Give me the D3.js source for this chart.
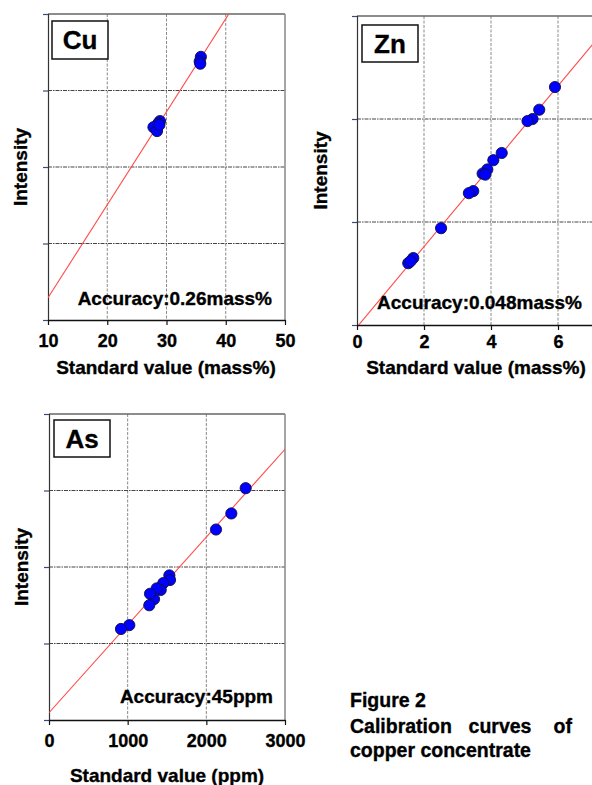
<!DOCTYPE html>
<html>
<head>
<meta charset="utf-8">
<script src="https://cdn.jsdelivr.net/npm/d3@7"></script>
<style>
  html, body { margin: 0; padding: 0; background: #fff; }
  svg { display: block; font-family: "Liberation Sans", Arial, Helvetica, sans-serif; }
  svg text { stroke: #000; stroke-width: 0.35px; }
</style>
</head>
<body>
<svg id="chart" width="592" height="785"></svg>
<script>
// Cu: standard value (mass%) vs. intensity
const cuX = [35.8, 35.6, 35.7, 28.9, 28.6, 27.8, 28.4, 28.8];
const cuY = [3.44, 3.38, 3.35, 2.60, 2.57, 2.52, 2.47, 2.55];
const cuFit = [0.1216, -0.926];          // slope, intercept
const cuTicks = [10, 20, 30, 40, 50];

// Zn: standard value (mass%) vs. intensity
const znX = [5.91, 5.44, 5.24, 5.09, 4.32, 4.07, 3.89, 3.75, 3.83, 3.47, 3.34, 2.51, 1.68, 1.53, 1.60];
const znY = [2.31, 2.09, 2.00, 1.98, 1.67, 1.60, 1.51, 1.47, 1.46, 1.30, 1.28, 0.94, 0.65, 0.60, 0.62];
const znFit = [0.39, -0.0195];
const znTicks = [0, 2, 4, 6, 8];

// As: standard value (ppm) vs. intensity
const asX = [2500, 2318, 2123, 1530, 1538, 1453, 1420, 1369, 1335, 1284, 1275, 1021, 915];
const asY = [3.03, 2.70, 2.49, 1.89, 1.83, 1.79, 1.70, 1.72, 1.58, 1.65, 1.50, 1.24, 1.19];
const asFit = [0.001148, 0.095];
const asTicks = [0, 1000, 2000, 3000];

const panels = [
  { id: "cu", name: "Cu", xs: cuX, ys: cuY, fit: cuFit, ticks: cuTicks, yMax: 4,
    left: 48, right: 285, top: 14, bottom: 320,
    box: [52, 21, 56, 38], acc: "Accuracy:0.26mass%", accX: 272, accY: 305,
    title: "Standard value (mass%)", titleX: 166, titleY: 374, tickY: 347, yTitleX: 27 },
  { id: "zn", name: "Zn", xs: znX, ys: znY, fit: znFit, ticks: znTicks, yMax: 3,
    left: 357, right: 625, top: 16, bottom: 325,
    box: [362, 25, 56, 37], acc: "Accuracy:0.048mass%", accX: 582, accY: 309,
    title: "Standard value (mass%)", titleX: 476, titleY: 374, tickY: 348, yTitleX: 327 },
  { id: "as", name: "As", xs: asX, ys: asY, fit: asFit, ticks: asTicks, yMax: 4,
    left: 49, right: 285, top: 414, bottom: 720,
    box: [54, 420, 56, 37], acc: "Accuracy:45ppm", accX: 273, accY: 703,
    title: "Standard value (ppm)", titleX: 167, titleY: 782, tickY: 747, yTitleX: 28 }
];

const svg = d3.select("#chart");
const W = +svg.attr("width");

panels.forEach(p => {
  const x = d3.scaleLinear()
    .domain([p.ticks[0], p.ticks[p.ticks.length - 1]])
    .range([p.left, p.right]);
  const y = d3.scaleLinear().domain([0, p.yMax]).range([p.bottom, p.top]);
  const g = svg.append("g");

  g.append("clipPath").attr("id", "clip-" + p.id)
    .append("rect")
    .attr("x", p.left).attr("y", p.top)
    .attr("width", p.right - p.left).attr("height", p.bottom - p.top);

  // vertical grid lines
  g.selectAll(".vgrid").data(p.ticks.slice(1, -1)).enter().append("line")
    .attr("x1", d => x(d)).attr("x2", d => x(d))
    .attr("y1", p.top).attr("y2", p.bottom)
    .attr("stroke", "#8a8a8a").attr("stroke-width", 1)
    .attr("stroke-dasharray", "3,1.5");

  // horizontal grid lines
  const yGrid = d3.range(1, p.yMax);
  g.selectAll(".hgrid").data(yGrid).enter().append("line")
    .attr("x1", p.left).attr("x2", p.right)
    .attr("y1", d => y(d)).attr("y2", d => y(d))
    .attr("stroke", "#444").attr("stroke-width", 1)
    .attr("stroke-dasharray", "4,1,1.5,1");

  // frame: top and right in grey
  g.append("line").attr("x1", p.left).attr("x2", p.right)
    .attr("y1", p.top).attr("y2", p.top)
    .attr("stroke", "#666").attr("stroke-width", 1.5);
  g.append("line").attr("x1", p.right).attr("x2", p.right)
    .attr("y1", p.top).attr("y2", p.bottom)
    .attr("stroke", "#888").attr("stroke-width", 1.5);

  // left axis with small outside ticks
  const yAxis = d3.axisLeft(y).tickValues(d3.range(0, p.yMax + 1))
    .tickSize(5).tickFormat("");
  const ya = g.append("g").attr("transform", `translate(${p.left},0)`).call(yAxis);
  ya.select(".domain").attr("stroke", "#333").attr("stroke-width", 1.2);
  ya.selectAll(".tick line").attr("stroke", "#3a4a7a").attr("stroke-width", 1.2);

  // bottom axis; labels only where they fall on the page
  const xAxis = d3.axisBottom(x).tickValues(p.ticks).tickSize(5).tickSizeOuter(0)
    .tickFormat(d => x(d) < W ? d3.format("d")(d) : "");
  const xa = g.append("g").attr("transform", `translate(0,${p.bottom})`).call(xAxis);
  xa.select(".domain").attr("stroke", "#111").attr("stroke-width", 1.5);
  xa.selectAll(".tick line").attr("stroke", "#111").attr("stroke-width", 1.2);
  xa.selectAll(".tick text")
    .attr("y", null).attr("dy", null)
    .attr("transform", `translate(0,${p.tickY - p.bottom})`)
    .attr("font-size", 18).attr("font-weight", "bold").attr("fill", "#000")
    .attr("font-family", "Liberation Sans, Arial, sans-serif");

  // calibration line
  const xd = x.domain();
  g.append("line")
    .attr("clip-path", `url(#clip-${p.id})`)
    .attr("x1", x(xd[0])).attr("y1", y(p.fit[0] * xd[0] + p.fit[1]))
    .attr("x2", x(xd[1])).attr("y2", y(p.fit[0] * xd[1] + p.fit[1]))
    .attr("stroke", "#ff4a4a").attr("stroke-width", 1.1);

  // standards
  g.selectAll(".pt").data(p.xs.map((v, i) => [v, p.ys[i]])).enter().append("circle")
    .attr("cx", d => x(d[0])).attr("cy", d => y(d[1])).attr("r", 5.6)
    .attr("fill", "#0000ff").attr("stroke", "#101040").attr("stroke-width", 0.9);

  // element label box
  g.append("rect")
    .attr("x", p.box[0]).attr("y", p.box[1])
    .attr("width", p.box[2]).attr("height", p.box[3])
    .attr("fill", "#fff").attr("stroke", "#111").attr("stroke-width", 1.5);
  g.append("text")
    .attr("x", p.box[0] + p.box[2] / 2).attr("y", p.box[1] + p.box[3] / 2 + 9)
    .attr("text-anchor", "middle").attr("font-size", 26).attr("font-weight", "bold")
    .text(p.name);

  // accuracy note
  g.append("text")
    .attr("x", p.accX).attr("y", p.accY)
    .attr("text-anchor", "end").attr("font-size", 19).attr("font-weight", "bold")
    .text(p.acc);

  // axis titles
  g.append("text")
    .attr("x", p.titleX).attr("y", p.titleY)
    .attr("text-anchor", "middle").attr("font-size", 19).attr("font-weight", "bold")
    .text(p.title);
  g.append("text")
    .attr("transform", `translate(${p.yTitleX},${(p.top + p.bottom) / 2}) rotate(-90)`)
    .attr("text-anchor", "middle").attr("font-size", 19).attr("font-weight", "bold")
    .text("Intensity");
});

// figure caption
const cap = svg.append("g").attr("font-size", 19.5).attr("font-weight", "bold");
cap.append("text").attr("x", 350).attr("y", 707).text("Figure 2");
cap.append("text").attr("x", 350).attr("y", 733).text("Calibration");
cap.append("text").attr("x", 500).attr("y", 733).attr("text-anchor", "middle").text("curves");
cap.append("text").attr("x", 572).attr("y", 733).attr("text-anchor", "end").text("of");
cap.append("text").attr("x", 350).attr("y", 757).text("copper concentrate");
</script>
</body>
</html>
